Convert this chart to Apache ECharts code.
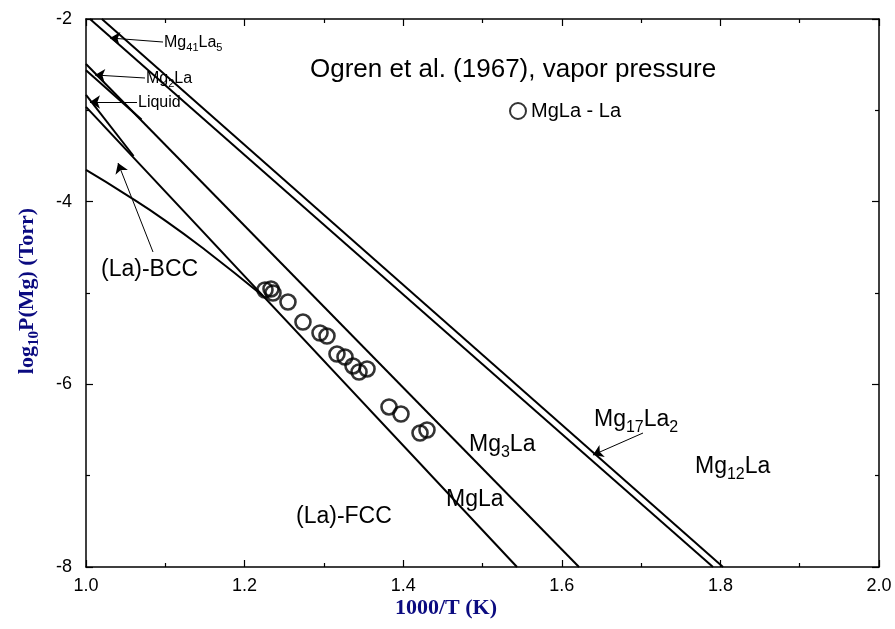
<!DOCTYPE html>
<html><head><meta charset="utf-8">
<script src="https://cdn.jsdelivr.net/npm/echarts/dist/echarts.min.js"></script>
<style>html,body{margin:0;padding:0;background:#fff}#c{width:895px;height:629px}</style>
</head><body><div id="c"></div>
<script>
// ---- data ----
const xTickValues = [1.0, 1.2, 1.4, 1.6, 1.8, 2.0];
const yTickValues = [-8, -6, -4, -2];
const lineMg17La2Upper = [[1.020, -2], [1.8033, -8]];
const lineMg17La2Lower = [[1.005, -2], [1.7907, -8]];
const lineMg3La = [[1.0, -2.493], [1.6217, -8]];
const lineMg2La = [[1.0, -2.56], [1.07, -3.10]];
const lineMgLa = [[1.0, -2.962], [1.5435, -8]];
const lineLiquid = [[1.0, -2.83], [1.06, -3.50]];
const curveBccFcc = [[1.0, -3.653], [1.05, -3.92], [1.10, -4.207], [1.15, -4.527], [1.2232, -5.032]];
const ogrenX = [1.2257, 1.2333, 1.2358, 1.2547, 1.2736, 1.2951, 1.3039, 1.3165, 1.3266, 1.3367, 1.3443, 1.3544, 1.3821, 1.3972, 1.4212, 1.4300];
const ogrenY = [-4.967, -4.956, -5.000, -5.099, -5.318, -5.438, -5.471, -5.668, -5.701, -5.799, -5.865, -5.832, -6.248, -6.325, -6.533, -6.500];
const seriesName = 'MgLa - La';

// annotations (data coords): [parts, anchorX, anchorY, size]
const annotations = [
  [[['Ogren et al. (1967), vapor pressure', 0]], 1.2825, -2.558, 26],
  [[['Mg', 0], ['41', 1], ['La', 0], ['5', 1]], 1.0984, -2.263, 16],
  [[['Mg', 0], ['2', 1], ['La', 0]], 1.0757, -2.657, 16],
  [[['Liquid', 0]], 1.0656, -2.920, 16],
  [[['(La)-BCC', 0]], 1.0189, -4.748, 23],
  [[['Mg', 0], ['3', 1], ['La', 0]], 1.483, -6.664, 23],
  [[['MgLa', 0]], 1.454, -7.267, 23],
  [[['(La)-FCC', 0]], 1.2648, -7.453, 23],
  [[['Mg', 0], ['17', 1], ['La', 0], ['2', 1]], 1.6406, -6.391, 23],
  [[['Mg', 0], ['12', 1], ['La', 0]], 1.768, -6.905, 23]
];
const arrows = [
  [[1.0971, -2.252], [1.0303, -2.208]],
  [[1.0744, -2.646], [1.0113, -2.613]],
  [[1.0643, -2.909], [1.005, -2.909]],
  [[1.0845, -4.551], [1.0404, -3.577]],
  [[1.7024, -6.533], [1.6393, -6.774]]
];

const SANS = '"Liberation Sans", Arial, sans-serif';
const SERIF = '"Liberation Serif", "Times New Roman", serif';
const NAVY = '#0b0b80';

const chart = echarts.init(document.getElementById('c'));
function lineSeries(d, smooth) {
  return { type: 'line', data: d, showSymbol: false, symbol: 'none', smooth: !!smooth,
    lineStyle: { color: '#000', width: 2 }, silent: true, z: 3 };
}
const axisCommon = {
  type: 'value', axisLine: { show: true, onZero: false, lineStyle: { color: '#000', width: 1.5 } },
  axisTick: { show: true, inside: true, length: 7, lineStyle: { color: '#000', width: 1.2 } },
  minorTick: { show: true, splitNumber: 2, length: 4, lineStyle: { color: '#000', width: 1.2 } },
  splitLine: { show: false }, minorSplitLine: { show: false }
};
const option = {
  animation: false,
  backgroundColor: '#fff',
  grid: { left: 86, right: 16, top: 19, bottom: 62 },
  legend: {
    data: [seriesName], left: 504, top: 96, itemWidth: 16, itemHeight: 16, itemGap: 6,
    textStyle: { fontSize: 20, fontFamily: SANS, color: '#000', padding: [0, 0, 0, 0] }
  },
  xAxis: [
    Object.assign({}, axisCommon, { position: 'bottom', min: 1, max: 2, interval: 0.2,
      axisLabel: { show: true, margin: 10, fontSize: 18, fontFamily: SANS, color: '#000',
        formatter: v => xTickValues.some(t => Math.abs(t - v) < 1e-6) ? v.toFixed(1) : '' } }),
    Object.assign({}, axisCommon, { position: 'top', min: 1, max: 2, interval: 0.2, axisLabel: { show: false } })
  ],
  yAxis: [
    Object.assign({}, axisCommon, { position: 'left', min: -8, max: -2, interval: 2,
      axisLabel: { show: true, margin: 14, fontSize: 18, fontFamily: SANS, color: '#000',
        formatter: v => yTickValues.includes(Math.round(v)) ? String(Math.round(v)) : '' } }),
    Object.assign({}, axisCommon, { position: 'right', min: -8, max: -2, interval: 2, axisLabel: { show: false } })
  ],
  series: [
    lineSeries(lineMg17La2Upper), lineSeries(lineMg17La2Lower), lineSeries(lineMg3La),
    lineSeries(lineMg2La), lineSeries(lineMgLa), lineSeries(lineLiquid), lineSeries(curveBccFcc, 0.4),
    {
      name: seriesName, type: 'scatter', symbol: 'circle', symbolSize: 15,
      data: ogrenX.map((x, i) => [x, ogrenY[i]]),
      itemStyle: { color: 'rgba(255,255,255,0)', borderColor: '#000', borderWidth: 2.6 }, z: 5
    },
    {
      type: 'lines', coordinateSystem: 'cartesian2d', silent: true, z: 4,
      symbol: ['none', 'arrow'], symbolSize: [0, 10],
      lineStyle: { color: '#000', width: 1, opacity: 1, curveness: 0 },
      data: arrows.map(a => ({ coords: a }))
    }
  ]
};
chart.setOption(option);

// text with subscripts
const ctx = document.createElement('canvas').getContext('2d');
function makeRich(parts, size, family, weight, color, px, py, rotation, center) {
  const els = [];
  let cx = 0;
  const pieces = parts.map(([t, sub]) => {
    const sz = sub ? Math.round(size * 0.68) : size;
    const font = `${weight} ${sz}px ${family}`;
    ctx.font = font;
    const w = ctx.measureText(t).width;
    const p = { t, sub, font, x: cx, w };
    cx += w;
    return p;
  });
  const total = cx;
  const shift = center ? -total / 2 : 0;
  pieces.forEach(p => {
    els.push({ type: 'text', x: p.x + shift, y: p.sub ? size * 0.32 : 0,
      style: { text: p.t, font: p.font, fill: color, textAlign: 'left', align: 'left',
        textVerticalAlign: 'middle', verticalAlign: 'middle' } });
  });
  return { type: 'group', x: px, y: py, rotation: rotation || 0, children: els, silent: true };
}
const graphics = annotations.map(([parts, ax, ay, size]) => {
  const p = chart.convertToPixel({ gridIndex: 0 }, [ax, ay]);
  return makeRich(parts, size, SANS, 'normal', '#000', p[0], p[1], 0, false);
});
graphics.push(makeRich([['1000/T (K)', 0]], 22, SERIF, 'bold', NAVY, 446, 608, 0, true));
graphics.push(makeRich([['log', 0], ['10', 1], ['P(Mg) (Torr)', 0]], 22, SERIF, 'bold', NAVY, 27, 291, Math.PI / 2, true));
chart.setOption({ graphic: graphics });
</script>
</body></html>
